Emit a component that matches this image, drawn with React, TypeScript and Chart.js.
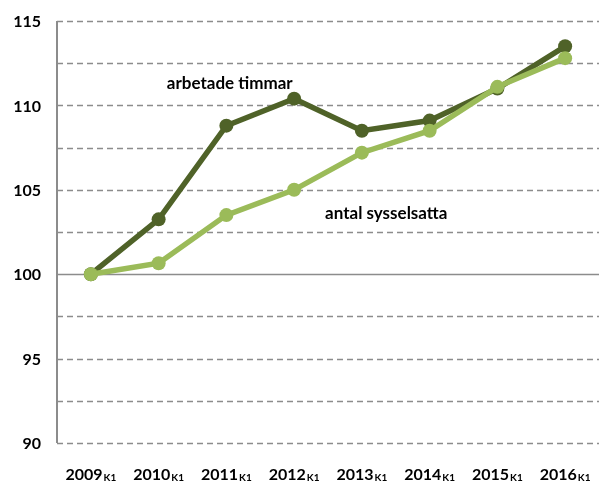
import React, { useEffect, useRef } from "react";
import { Chart, registerables } from "chart.js";

Chart.register(...registerables);

const categories = ["2009", "2010", "2011", "2012", "2013", "2014", "2015", "2016"];
const subscript = "K1";
const arbetadeTimmar = [100, 103.25, 108.8, 110.4, 108.5, 109.1, 111.0, 113.5];
const antalSysselsatta = [100, 100.65, 103.5, 105.0, 107.2, 108.5, 111.1, 112.8];
const yMin = 90;
const yMax = 115;
const yStep = 2.5;
const yLabelEvery = 5;
const labelArbetade = "arbetade timmar";
const labelAntal = "antal sysselsatta";

const DARK = "#4F6228";
const LIGHT = "#9BBB59";
const GRID = "#8c8c8c";
const FONT = "Lato, 'Open Sans', sans-serif";

const customPlugin = {
  id: "custom",
  beforeDatasetsDraw(chart: any) {
    const { ctx, scales, chartArea } = chart;
    ctx.save();
    ctx.strokeStyle = GRID;
    scales.y.ticks.forEach((t: any) => {
      const y = Math.round(scales.y.getPixelForValue(t.value)) + 0.5;
      ctx.beginPath();
      if (t.value === 100) {
        ctx.setLineDash([]);
        ctx.lineWidth = 1.6;
      } else {
        ctx.setLineDash([6, 4]);
        ctx.lineWidth = 1.3;
      }
      ctx.moveTo(chartArea.left, y);
      ctx.lineTo(chartArea.right, y);
      ctx.stroke();
    });
    ctx.setLineDash([]);
    ctx.lineWidth = 2;
    ctx.beginPath();
    ctx.moveTo(chartArea.left, scales.y.getPixelForValue(yMax));
    ctx.lineTo(chartArea.left, scales.y.getPixelForValue(yMin));
    ctx.stroke();

    ctx.fillStyle = "#000";
    ctx.font = `bold 16px ${FONT}`;
    ctx.textAlign = "right";
    ctx.textBaseline = "middle";
    scales.y.ticks.forEach((t: any) => {
      if (t.value % yLabelEvery === 0) {
        ctx.fillText(String(t.value), chartArea.left - 16, scales.y.getPixelForValue(t.value) + 1);
      }
    });
    ctx.restore();
  },
  afterDatasetsDraw(chart: any) {
    const { ctx, scales, chartArea } = chart;
    ctx.save();
    ctx.fillStyle = "#000";
    ctx.textBaseline = "alphabetic";
    const baseY = chartArea.bottom + 37;
    categories.forEach((c, i) => {
      const x = scales.x.getPixelForValue(i);
      ctx.font = `bold 16px ${FONT}`;
      const w1 = ctx.measureText(c).width;
      ctx.font = `bold 10px ${FONT}`;
      const w2 = ctx.measureText(subscript).width;
      const start = x - (w1 + w2 + 1) / 2;
      ctx.font = `bold 16px ${FONT}`;
      ctx.textAlign = "left";
      ctx.fillText(c, start, baseY);
      ctx.font = `bold 10px ${FONT}`;
      ctx.fillText(subscript, start + w1 + 1, baseY + 1);
    });
    ctx.font = `bold 17px ${FONT}`;
    ctx.textAlign = "center";
    ctx.textBaseline = "middle";
    ctx.fillText(labelArbetade, scales.x.getPixelForValue(2.05), scales.y.getPixelForValue(111.3));
    ctx.fillText(labelAntal, scales.x.getPixelForValue(4.36), scales.y.getPixelForValue(103.6));
    ctx.restore();
  },
};

export default function App() {
  const ref = useRef<HTMLCanvasElement>(null);
  useEffect(() => {
    document.body.style.margin = "0";
    const chart = new Chart(ref.current!, {
      type: "line",
      data: {
        labels: categories,
        datasets: [
          {
            label: labelAntal,
            data: antalSysselsatta,
            borderColor: LIGHT,
            backgroundColor: LIGHT,
            borderWidth: 5.5,
            pointRadius: 7,
            pointBackgroundColor: LIGHT,
            pointBorderWidth: 0,
            order: 0,
          },
          {
            label: labelArbetade,
            data: arbetadeTimmar,
            borderColor: DARK,
            backgroundColor: DARK,
            borderWidth: 5.5,
            pointRadius: 7,
            pointBackgroundColor: DARK,
            pointBorderWidth: 0,
            order: 1,
          },
        ],
      },
      options: {
        responsive: false,
        animation: false,
        layout: { padding: { top: 21, right: 0, left: 57, bottom: 0 } },
        plugins: { legend: { display: false }, tooltip: { enabled: false } },
        scales: {
          x: {
            offset: true,
            grid: { display: false },
            border: { display: false },
            ticks: { display: false },
            afterFit(scale: any) {
              scale.height = 39;
            },
          },
          y: {
            display: true,
            min: yMin,
            max: yMax,
            ticks: { stepSize: yStep, display: false },
            grid: { display: false, drawTicks: false },
            border: { display: false },
            afterFit(scale: any) {
              scale.width = 0;
            },
          },
        },
      },
      plugins: [customPlugin],
    });
    return () => chart.destroy();
  }, []);
  return (
    <div style={{ position: "fixed", left: 0, top: 0, width: 606, height: 482 }}>
      <canvas ref={ref} width={606} height={482} />
    </div>
  );
}
